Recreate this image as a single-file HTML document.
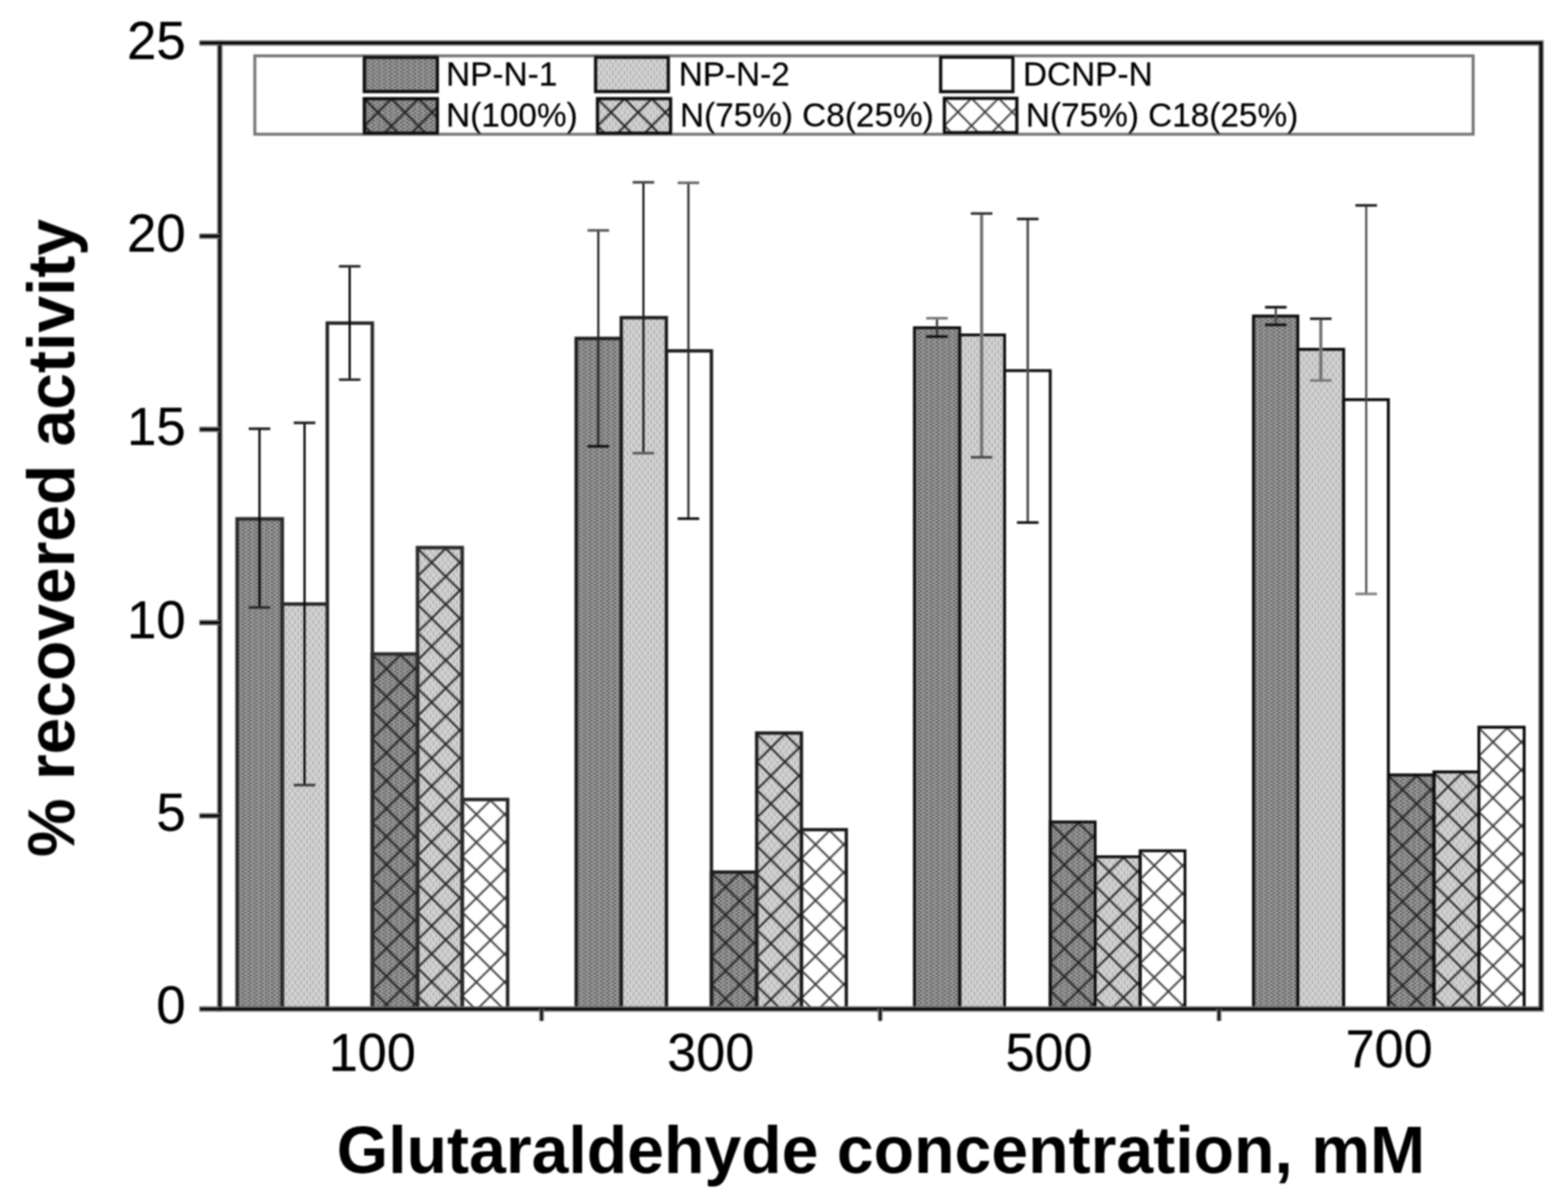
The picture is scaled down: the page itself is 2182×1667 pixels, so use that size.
<!DOCTYPE html>
<html lang="en"><head><meta charset="utf-8"><title>% recovered activity vs Glutaraldehyde concentration</title>
<style>html,body{margin:0;padding:0;background:#fff;}body{width:2182px;height:1667px;overflow:hidden;}svg{display:block;}text{font-family:"Liberation Sans",sans-serif;fill:#000;}</style>
</head><body>
<svg width="2182" height="1667" viewBox="0 0 2182 1667">
<defs><filter id="soft" filterUnits="userSpaceOnUse" x="0" y="0" width="2182" height="1667"><feGaussianBlur stdDeviation="0.85"/></filter><pattern id="dd" patternUnits="userSpaceOnUse" x="0.8" y="0.3" width="8.183" height="5.455"><rect width="8.183" height="5.455" fill="#8d8d8d"/><rect x="0" y="0" width="2.728" height="2.728" fill="#777777"/><rect x="2.728" y="2.728" width="2.728" height="2.728" fill="#777777"/></pattern><pattern id="dl" patternUnits="userSpaceOnUse" x="0.4" y="0.6" width="8.183" height="10.910"><rect width="8.183" height="10.910" fill="#cfcfcf"/><rect x="0" y="0" width="2.728" height="5.455" fill="#bebebe"/><rect x="4.091" y="5.455" width="2.728" height="5.455" fill="#bebebe"/></pattern><pattern id="h1" patternUnits="userSpaceOnUse" x="518.10" y="911.20" width="39.30" height="38.90"><path d="M-3.93 -3.89L43.23 42.79M-3.93 42.79L43.23 -3.89" stroke="#222222" stroke-width="2.60" fill="none"/></pattern><pattern id="h2" patternUnits="userSpaceOnUse" x="581.00" y="763.20" width="39.30" height="38.90"><path d="M-3.93 -3.89L43.23 42.79M-3.93 42.79L43.23 -3.89" stroke="#222222" stroke-width="2.60" fill="none"/></pattern><pattern id="h3" patternUnits="userSpaceOnUse" x="643.20" y="1113.70" width="39.30" height="38.90"><path d="M-3.93 -3.89L43.23 42.79M-3.93 42.79L43.23 -3.89" stroke="#3a3a3a" stroke-width="2.50" fill="none"/></pattern><pattern id="h4" patternUnits="userSpaceOnUse" x="990.00" y="1214.70" width="39.30" height="38.90"><path d="M-3.93 -3.89L43.23 42.79M-3.93 42.79L43.23 -3.89" stroke="#222222" stroke-width="2.60" fill="none"/></pattern><pattern id="h5" patternUnits="userSpaceOnUse" x="1053.00" y="1021.20" width="39.30" height="38.90"><path d="M-3.93 -3.89L43.23 42.79M-3.93 42.79L43.23 -3.89" stroke="#222222" stroke-width="2.60" fill="none"/></pattern><pattern id="h6" patternUnits="userSpaceOnUse" x="1115.20" y="1155.70" width="39.30" height="38.90"><path d="M-3.93 -3.89L43.23 42.79M-3.93 42.79L43.23 -3.89" stroke="#3a3a3a" stroke-width="2.50" fill="none"/></pattern><pattern id="h7" patternUnits="userSpaceOnUse" x="1461.50" y="1144.90" width="39.30" height="38.90"><path d="M-3.93 -3.89L43.23 42.79M-3.93 42.79L43.23 -3.89" stroke="#222222" stroke-width="2.60" fill="none"/></pattern><pattern id="h8" patternUnits="userSpaceOnUse" x="1524.00" y="1193.40" width="39.30" height="38.90"><path d="M-3.93 -3.89L43.23 42.79M-3.93 42.79L43.23 -3.89" stroke="#222222" stroke-width="2.60" fill="none"/></pattern><pattern id="h9" patternUnits="userSpaceOnUse" x="1586.60" y="1185.00" width="39.30" height="38.90"><path d="M-3.93 -3.89L43.23 42.79M-3.93 42.79L43.23 -3.89" stroke="#3a3a3a" stroke-width="2.50" fill="none"/></pattern><pattern id="h10" patternUnits="userSpaceOnUse" x="1932.00" y="1079.50" width="39.30" height="38.90"><path d="M-3.93 -3.89L43.23 42.79M-3.93 42.79L43.23 -3.89" stroke="#222222" stroke-width="2.60" fill="none"/></pattern><pattern id="h11" patternUnits="userSpaceOnUse" x="1995.50" y="1075.30" width="39.30" height="38.90"><path d="M-3.93 -3.89L43.23 42.79M-3.93 42.79L43.23 -3.89" stroke="#222222" stroke-width="2.60" fill="none"/></pattern><pattern id="h12" patternUnits="userSpaceOnUse" x="2058.00" y="1013.10" width="39.30" height="38.90"><path d="M-3.93 -3.89L43.23 42.79M-3.93 42.79L43.23 -3.89" stroke="#3a3a3a" stroke-width="2.50" fill="none"/></pattern><pattern id="h13" patternUnits="userSpaceOnUse" x="507.00" y="137.30" width="37.70" height="38.10"><path d="M-3.77 -3.81L41.47 41.91M-3.77 41.91L41.47 -3.81" stroke="#222222" stroke-width="2.60" fill="none"/></pattern><pattern id="h14" patternUnits="userSpaceOnUse" x="831.50" y="137.30" width="37.70" height="38.10"><path d="M-3.77 -3.81L41.47 41.91M-3.77 41.91L41.47 -3.81" stroke="#222222" stroke-width="2.60" fill="none"/></pattern><pattern id="h15" patternUnits="userSpaceOnUse" x="1314.20" y="136.80" width="37.70" height="38.10"><path d="M-3.77 -3.81L41.47 41.91M-3.77 41.91L41.47 -3.81" stroke="#3a3a3a" stroke-width="2.50" fill="none"/></pattern></defs>
<rect x="0" y="0" width="2182" height="1667" fill="#ffffff"/>
<g>
<rect x="330.00" y="722.00" width="62.80" height="682.00" fill="url(#dd)"/>
<rect x="392.80" y="840.50" width="62.70" height="563.50" fill="url(#dl)"/>
<rect x="518.10" y="910.00" width="62.90" height="494.00" fill="url(#dd)"/>
<rect x="581.00" y="762.00" width="62.20" height="642.00" fill="url(#dl)"/>
<rect x="801.80" y="470.90" width="62.70" height="933.10" fill="url(#dd)"/>
<rect x="864.50" y="442.00" width="62.80" height="962.00" fill="url(#dl)"/>
<rect x="990.00" y="1213.50" width="63.00" height="190.50" fill="url(#dd)"/>
<rect x="1053.00" y="1020.00" width="62.20" height="384.00" fill="url(#dl)"/>
<rect x="1272.50" y="456.00" width="63.00" height="948.00" fill="url(#dd)"/>
<rect x="1335.50" y="466.00" width="62.50" height="938.00" fill="url(#dl)"/>
<rect x="1461.50" y="1143.70" width="62.50" height="260.30" fill="url(#dd)"/>
<rect x="1524.00" y="1192.20" width="62.60" height="211.80" fill="url(#dl)"/>
<rect x="1744.30" y="439.80" width="61.70" height="964.20" fill="url(#dd)"/>
<rect x="1806.00" y="486.10" width="63.80" height="917.90" fill="url(#dl)"/>
<rect x="1932.00" y="1078.30" width="63.50" height="325.70" fill="url(#dd)"/>
<rect x="1995.50" y="1074.10" width="62.50" height="329.90" fill="url(#dl)"/>
<rect x="507.00" y="79.60" width="101.60" height="47.80" fill="url(#dd)"/>
<rect x="828.80" y="79.60" width="101.20" height="47.80" fill="url(#dl)"/>
<rect x="507.00" y="137.30" width="101.60" height="48.10" fill="url(#dd)"/>
<rect x="831.50" y="137.30" width="101.70" height="48.10" fill="url(#dl)"/>
</g>
<g filter="url(#soft)">
<rect x="330.00" y="722.00" width="62.80" height="682.00" fill="none" stroke="#2a2a2a" stroke-width="4.90"/>
<rect x="392.80" y="840.50" width="62.70" height="563.50" fill="none" stroke="#2a2a2a" stroke-width="4.90"/>
<rect x="455.50" y="449.60" width="62.60" height="954.40" fill="none" stroke="#2a2a2a" stroke-width="4.90"/>
<rect x="518.10" y="910.00" width="62.90" height="494.00" fill="url(#h1)"/>
<rect x="518.10" y="910.00" width="62.90" height="494.00" fill="none" stroke="#2a2a2a" stroke-width="4.90"/>
<rect x="581.00" y="762.00" width="62.20" height="642.00" fill="url(#h2)"/>
<rect x="581.00" y="762.00" width="62.20" height="642.00" fill="none" stroke="#2a2a2a" stroke-width="4.90"/>
<rect x="643.20" y="1112.50" width="63.20" height="291.50" fill="url(#h3)"/>
<rect x="643.20" y="1112.50" width="63.20" height="291.50" fill="none" stroke="#2a2a2a" stroke-width="4.90"/>
<rect x="801.80" y="470.90" width="62.70" height="933.10" fill="none" stroke="#1c1c1c" stroke-width="4.60"/>
<rect x="864.50" y="442.00" width="62.80" height="962.00" fill="none" stroke="#1c1c1c" stroke-width="4.60"/>
<rect x="927.30" y="488.20" width="62.70" height="915.80" fill="none" stroke="#1c1c1c" stroke-width="4.60"/>
<rect x="990.00" y="1213.50" width="63.00" height="190.50" fill="url(#h4)"/>
<rect x="990.00" y="1213.50" width="63.00" height="190.50" fill="none" stroke="#1c1c1c" stroke-width="4.60"/>
<rect x="1053.00" y="1020.00" width="62.20" height="384.00" fill="url(#h5)"/>
<rect x="1053.00" y="1020.00" width="62.20" height="384.00" fill="none" stroke="#1c1c1c" stroke-width="4.60"/>
<rect x="1115.20" y="1154.50" width="62.50" height="249.50" fill="url(#h6)"/>
<rect x="1115.20" y="1154.50" width="62.50" height="249.50" fill="none" stroke="#1c1c1c" stroke-width="4.60"/>
<rect x="1272.50" y="456.00" width="63.00" height="948.00" fill="none" stroke="#080808" stroke-width="3.90"/>
<rect x="1335.50" y="466.00" width="62.50" height="938.00" fill="none" stroke="#080808" stroke-width="3.90"/>
<rect x="1398.00" y="515.70" width="63.50" height="888.30" fill="none" stroke="#080808" stroke-width="3.90"/>
<rect x="1461.50" y="1143.70" width="62.50" height="260.30" fill="url(#h7)"/>
<rect x="1461.50" y="1143.70" width="62.50" height="260.30" fill="none" stroke="#080808" stroke-width="3.90"/>
<rect x="1524.00" y="1192.20" width="62.60" height="211.80" fill="url(#h8)"/>
<rect x="1524.00" y="1192.20" width="62.60" height="211.80" fill="none" stroke="#080808" stroke-width="3.90"/>
<rect x="1586.60" y="1183.80" width="62.40" height="220.20" fill="url(#h9)"/>
<rect x="1586.60" y="1183.80" width="62.40" height="220.20" fill="none" stroke="#080808" stroke-width="3.90"/>
<rect x="1744.30" y="439.80" width="61.70" height="964.20" fill="none" stroke="#0c0c0c" stroke-width="4.10"/>
<rect x="1806.00" y="486.10" width="63.80" height="917.90" fill="none" stroke="#0c0c0c" stroke-width="4.10"/>
<rect x="1869.80" y="556.10" width="62.20" height="847.90" fill="none" stroke="#0c0c0c" stroke-width="4.10"/>
<rect x="1932.00" y="1078.30" width="63.50" height="325.70" fill="url(#h10)"/>
<rect x="1932.00" y="1078.30" width="63.50" height="325.70" fill="none" stroke="#0c0c0c" stroke-width="4.10"/>
<rect x="1995.50" y="1074.10" width="62.50" height="329.90" fill="url(#h11)"/>
<rect x="1995.50" y="1074.10" width="62.50" height="329.90" fill="none" stroke="#0c0c0c" stroke-width="4.10"/>
<rect x="2058.00" y="1011.90" width="63.00" height="392.10" fill="url(#h12)"/>
<rect x="2058.00" y="1011.90" width="63.00" height="392.10" fill="none" stroke="#0c0c0c" stroke-width="4.10"/>
<path d="M361.10 596.60V845.30" stroke="#000" stroke-width="3.00" fill="none"/>
<path d="M346.10 596.60H376.10" stroke="#1a1a1a" stroke-width="3.6" fill="none"/>
<path d="M346.10 845.30H376.10" stroke="#2a2a2a" stroke-width="3.6" fill="none"/>
<path d="M423.80 588.40V1092.40" stroke="#000" stroke-width="3.00" fill="none"/>
<path d="M408.80 588.40H438.80" stroke="#1a1a1a" stroke-width="3.6" fill="none"/>
<path d="M408.80 1092.40H438.80" stroke="#3a3a3a" stroke-width="3.6" fill="none"/>
<path d="M486.60 370.60V528.30" stroke="#000" stroke-width="3.00" fill="none"/>
<path d="M471.60 370.60H501.60" stroke="#2a2a2a" stroke-width="3.6" fill="none"/>
<path d="M471.60 528.30H501.60" stroke="#2a2a2a" stroke-width="3.6" fill="none"/>
<path d="M832.60 320.60V621.10" stroke="#262626" stroke-width="3.00" fill="none"/>
<path d="M817.60 320.60H847.60" stroke="#555" stroke-width="3.6" fill="none"/>
<path d="M817.60 621.10H847.60" stroke="#111" stroke-width="3.6" fill="none"/>
<path d="M895.40 253.70V630.60" stroke="#1a1a1a" stroke-width="3.00" fill="none"/>
<path d="M880.40 253.70H910.40" stroke="#444" stroke-width="3.6" fill="none"/>
<path d="M880.40 630.60H910.40" stroke="#5a5a5a" stroke-width="3.6" fill="none"/>
<path d="M958.00 254.40V721.70" stroke="#2a2a2a" stroke-width="3.00" fill="none"/>
<path d="M943.00 254.40H973.00" stroke="#666" stroke-width="3.6" fill="none"/>
<path d="M943.00 721.70H973.00" stroke="#111" stroke-width="3.6" fill="none"/>
<path d="M1303.90 442.80V468.30" stroke="#333" stroke-width="3.00" fill="none"/>
<path d="M1288.90 442.80H1318.90" stroke="#777" stroke-width="3.6" fill="none"/>
<path d="M1288.90 468.30H1318.90" stroke="#111" stroke-width="3.6" fill="none"/>
<path d="M1366.00 297.10V636.30" stroke="#727272" stroke-width="4.40" fill="none"/>
<path d="M1351.00 297.10H1381.00" stroke="#333" stroke-width="3.6" fill="none"/>
<path d="M1351.00 636.30H1381.00" stroke="#4a4a4a" stroke-width="3.6" fill="none"/>
<path d="M1430.20 304.70V727.10" stroke="#4a4a4a" stroke-width="3.40" fill="none"/>
<path d="M1415.20 304.70H1445.20" stroke="#222" stroke-width="3.6" fill="none"/>
<path d="M1415.20 727.10H1445.20" stroke="#111" stroke-width="3.6" fill="none"/>
<path d="M1775.40 427.50V452.00" stroke="#444" stroke-width="3.00" fill="none"/>
<path d="M1760.40 427.50H1790.40" stroke="#111" stroke-width="3.6" fill="none"/>
<path d="M1760.40 452.00H1790.40" stroke="#111" stroke-width="3.6" fill="none"/>
<path d="M1838.00 443.50V529.40" stroke="#727272" stroke-width="4.40" fill="none"/>
<path d="M1823.00 443.50H1853.00" stroke="#222" stroke-width="3.6" fill="none"/>
<path d="M1823.00 529.40H1853.00" stroke="#777" stroke-width="3.6" fill="none"/>
<path d="M1901.20 285.80V826.40" stroke="#444" stroke-width="2.80" fill="none"/>
<path d="M1886.20 285.80H1916.20" stroke="#222" stroke-width="3.6" fill="none"/>
<path d="M1886.20 826.40H1916.20" stroke="#808080" stroke-width="3.6" fill="none"/>
<rect x="354.60" y="77.70" width="1695.40" height="109.10" fill="none" stroke="#787878" stroke-width="4.2"/>
<rect x="507.00" y="79.60" width="101.60" height="47.80" fill="none" stroke="#101010" stroke-width="4.50"/>
<rect x="828.80" y="79.60" width="101.20" height="47.80" fill="none" stroke="#101010" stroke-width="4.50"/>
<rect x="1309.00" y="79.50" width="100.50" height="48.00" fill="none" stroke="#101010" stroke-width="4.50"/>
<rect x="507.00" y="137.30" width="101.60" height="48.10" fill="url(#h13)"/>
<rect x="507.00" y="137.30" width="101.60" height="48.10" fill="none" stroke="#101010" stroke-width="4.50"/>
<rect x="831.50" y="137.30" width="101.70" height="48.10" fill="url(#h14)"/>
<rect x="831.50" y="137.30" width="101.70" height="48.10" fill="none" stroke="#101010" stroke-width="4.50"/>
<rect x="1314.20" y="136.80" width="100.80" height="47.80" fill="url(#h15)"/>
<rect x="1314.20" y="136.80" width="100.80" height="47.80" fill="none" stroke="#101010" stroke-width="4.50"/>
<rect x="305.90" y="59.80" width="1838.60" height="1344.20" fill="none" stroke="#6a6a6a" stroke-width="7.40"/>
<rect x="305.90" y="59.80" width="1838.60" height="1344.20" fill="none" stroke="#000" stroke-width="4.20"/>
<line x1="277.40" y1="1404.00" x2="305.90" y2="1404.00" stroke="#6a6a6a" stroke-width="7.40"/>
<line x1="278.00" y1="1404.00" x2="305.90" y2="1404.00" stroke="#000" stroke-width="4.20"/>
<line x1="277.40" y1="1135.16" x2="305.90" y2="1135.16" stroke="#6a6a6a" stroke-width="7.40"/>
<line x1="278.00" y1="1135.16" x2="305.90" y2="1135.16" stroke="#000" stroke-width="4.20"/>
<line x1="277.40" y1="866.32" x2="305.90" y2="866.32" stroke="#6a6a6a" stroke-width="7.40"/>
<line x1="278.00" y1="866.32" x2="305.90" y2="866.32" stroke="#000" stroke-width="4.20"/>
<line x1="277.40" y1="597.48" x2="305.90" y2="597.48" stroke="#6a6a6a" stroke-width="7.40"/>
<line x1="278.00" y1="597.48" x2="305.90" y2="597.48" stroke="#000" stroke-width="4.20"/>
<line x1="277.40" y1="328.64" x2="305.90" y2="328.64" stroke="#6a6a6a" stroke-width="7.40"/>
<line x1="278.00" y1="328.64" x2="305.90" y2="328.64" stroke="#000" stroke-width="4.20"/>
<line x1="277.40" y1="59.80" x2="305.90" y2="59.80" stroke="#6a6a6a" stroke-width="7.40"/>
<line x1="278.00" y1="59.80" x2="305.90" y2="59.80" stroke="#000" stroke-width="4.20"/>
<line x1="753.60" y1="1404.00" x2="753.60" y2="1420.60" stroke="#777" stroke-width="6.6"/>
<line x1="753.60" y1="1404.00" x2="753.60" y2="1420.40" stroke="#000" stroke-width="3.6"/>
<line x1="1224.80" y1="1404.00" x2="1224.80" y2="1420.60" stroke="#777" stroke-width="6.6"/>
<line x1="1224.80" y1="1404.00" x2="1224.80" y2="1420.40" stroke="#000" stroke-width="3.6"/>
<line x1="1696.40" y1="1404.00" x2="1696.40" y2="1420.60" stroke="#777" stroke-width="6.6"/>
<line x1="1696.40" y1="1404.00" x2="1696.40" y2="1420.40" stroke="#000" stroke-width="3.6"/>
<text transform="translate(258.50 81.80) scale(1 1.0000)" font-size="73.50" stroke="#000" stroke-width="0.30" text-anchor="end">25</text>
<text transform="translate(258.50 349.50) scale(1 1.0000)" font-size="73.50" stroke="#000" stroke-width="0.30" text-anchor="end">20</text>
<text transform="translate(258.50 619.20) scale(1 1.0000)" font-size="73.50" stroke="#000" stroke-width="0.30" text-anchor="end">15</text>
<text transform="translate(258.50 887.60) scale(1 1.0000)" font-size="73.50" stroke="#000" stroke-width="0.30" text-anchor="end">10</text>
<text transform="translate(258.50 1155.60) scale(1 1.0000)" font-size="73.50" stroke="#000" stroke-width="0.30" text-anchor="end">5</text>
<text transform="translate(258.50 1424.20) scale(1 1.0000)" font-size="73.50" stroke="#000" stroke-width="0.30" text-anchor="end">0</text>
<text transform="translate(518.00 1489.80) scale(1 1.0120)" font-size="72.60" stroke="#000" stroke-width="0.30" text-anchor="middle">100</text>
<text transform="translate(989.00 1489.80) scale(1 1.0120)" font-size="72.60" stroke="#000" stroke-width="0.30" text-anchor="middle">300</text>
<text transform="translate(1459.80 1489.80) scale(1 1.0120)" font-size="72.60" stroke="#000" stroke-width="0.30" text-anchor="middle">500</text>
<text transform="translate(1933.00 1485.00) scale(1 1.0120)" font-size="72.60" stroke="#000" stroke-width="0.30" text-anchor="middle">700</text>
<text transform="translate(620.80 119.00) scale(1 1.0000)" font-size="46.40" stroke="#000" stroke-width="0.30">NP-N-1</text>
<text transform="translate(944.40 119.00) scale(1 1.0000)" font-size="46.40" stroke="#000" stroke-width="0.30">NP-N-2</text>
<text transform="translate(1423.60 119.00) scale(1 1.0000)" font-size="46.40" stroke="#000" stroke-width="0.30">DCNP-N</text>
<text transform="translate(620.80 175.90) scale(1 1.0000)" font-size="46.40" stroke="#000" stroke-width="0.30">N(100%)</text>
<text transform="translate(946.20 175.90) scale(1 1.0000)" font-size="46.40" stroke="#000" stroke-width="0.30">N(75%) C8(25%)</text>
<text transform="translate(1427.60 175.90) scale(1 1.0000)" font-size="46.40" stroke="#000" stroke-width="0.30">N(75%) C18(25%)</text>
<text transform="translate(468.60 1632.20) scale(1 1.0000)" font-size="92.10" font-weight="bold">Glutaraldehyde concentration, mM</text>
<text transform="translate(103.00 1192.60) rotate(-90) scale(1 1.0000)" font-size="91.80" font-weight="bold">% recovered activity</text>
</g>
</svg>
</body></html>
